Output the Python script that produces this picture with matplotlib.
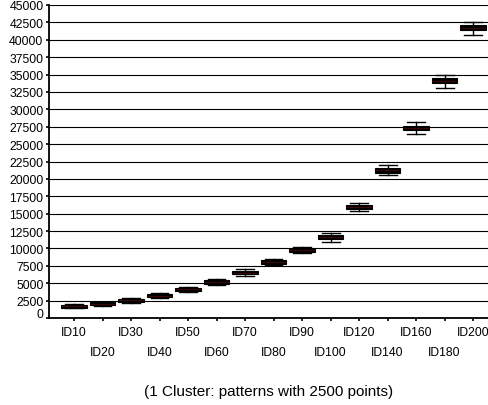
import matplotlib
matplotlib.use("Agg")
import matplotlib.pyplot as plt
import matplotlib.transforms as mtransforms

plt.rcParams['font.family'] = ['Liberation Sans', 'DejaVu Sans']

# Pattern sets and their summary statistics
categories = ["ID10", "ID20", "ID30", "ID40", "ID50", "ID60", "ID70", "ID80",
              "ID90", "ID100", "ID120", "ID140", "ID160", "ID180", "ID200"]
medians = [1700, 2040, 2520, 3200, 4100, 5210, 6500, 7980,
           9720, 11690, 16010, 21240, 27290, 34130, 41760]
q1 = [1470, 1810, 2290, 2960, 3850, 4930, 6260, 7700,
      9470, 11400, 15720, 20900, 27000, 33770, 41400]
q3 = [1930, 2270, 2760, 3440, 4350, 5490, 6740, 8280,
      9960, 11920, 16300, 21570, 27620, 34490, 42120]
whisker_low = [1400, 1740, 2200, 2850, 3700, 4760, 6020, 7560,
               9290, 10970, 15340, 20560, 26420, 33090, 40720]
whisker_high = [2000, 2340, 2840, 3550, 4500, 5660, 6980, 8520,
                10200, 12170, 16590, 22000, 28200, 34920, 42600]
y_ticks = list(range(0, 45001, 2500))
caption = "(1 Cluster: patterns with 2500 points)"

W, H = 489, 406
fig = plt.figure(figsize=(W / 100, H / 100), dpi=100)
ax = fig.add_axes([49 / W, (H - 319) / H, (489 - 49) / W, (319 - 6) / H])

positions = list(range(1, len(categories) + 1))
stats = [dict(med=m, q1=a, q3=b, whislo=lo, whishi=hi, fliers=[])
         for m, a, b, lo, hi in zip(medians, q1, q3, whisker_low, whisker_high)]

ax.bxp(stats, positions=positions, widths=0.9, patch_artist=True,
       showfliers=False, manage_ticks=False,
       boxprops=dict(facecolor="black", edgecolor="black", linewidth=0.8),
       medianprops=dict(color="#3c0606", linewidth=0.8),
       whiskerprops=dict(color="black", linewidth=1.0),
       capprops=dict(color="black", linewidth=1.0),
       capwidths=0.63)

ax.set_xlim(0.123, 15.56)
ax.set_ylim(0, 45000)

# horizontal grid
ax.set_yticks(y_ticks)
ax.set_yticklabels([str(v) for v in y_ticks], fontsize=8.8)
ax.yaxis.grid(True, color="black", linewidth=0.8)
ax.set_axisbelow(True)
ax.tick_params(axis="y", direction="out", length=2.5, width=1.2, pad=1.5)

# lift the zero label a little off the corner
zero_label = ax.get_yticklabels()[0]
zero_label.set_transform(zero_label.get_transform() +
                         mtransforms.ScaledTranslation(0, 5 / 100, fig.dpi_scale_trans))

# category labels on two staggered rows
ax.set_xticks(positions)
ax.set_xticklabels([""] * len(categories))
ax.tick_params(axis="x", direction="out", length=2, width=1.2)
xform = ax.get_xaxis_transform()
axes_h = 319 - 6
for i, (p, name) in enumerate(zip(positions, categories)):
    base_px = 336 if i % 2 == 0 else 355.7
    ax.text(p, -(base_px - 319) / axes_h, name, transform=xform,
            ha="center", va="baseline", fontsize=8.7)

ax.text(0.5, -(396.5 - 319) / axes_h, caption, transform=ax.transAxes,
        ha="center", va="baseline", fontsize=11)

for side in ("top", "right"):
    ax.spines[side].set_visible(False)
ax.spines["left"].set_linewidth(1.3)
ax.spines["bottom"].set_linewidth(1.3)

fig.savefig("out.png", dpi=100)
